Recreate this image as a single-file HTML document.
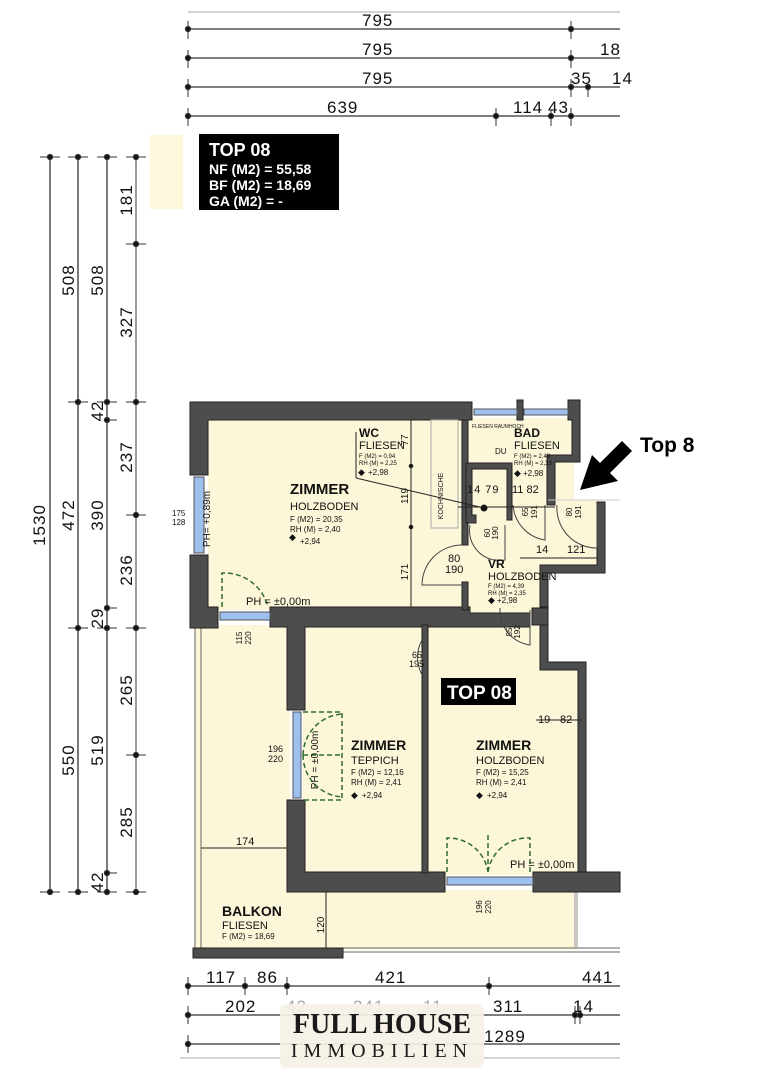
<!DOCTYPE html>
<html><head><meta charset="utf-8"><style>
html,body{margin:0;padding:0;background:#fff;}
svg{display:block;font-family:"Liberation Sans",sans-serif;}
</style></head><body>
<svg width="764" height="1080" viewBox="0 0 764 1080" xmlns="http://www.w3.org/2000/svg">
<rect width="764" height="1080" fill="#fff"/>
<!-- top dimension lines -->
<g stroke="#333" stroke-width="1.3" fill="#111">
<line x1="188" y1="12" x2="620" y2="12" stroke="#bbb"/>
<line x1="188" y1="29" x2="620" y2="29"/>
<line x1="188" y1="58" x2="620" y2="58"/>
<line x1="188" y1="87" x2="620" y2="87"/>
<line x1="188" y1="116" x2="620" y2="116"/>
<g stroke-width="1">
<line x1="188" y1="21" x2="188" y2="39"/><line x1="571" y1="21" x2="571" y2="39"/>
<line x1="188" y1="50" x2="188" y2="68"/><line x1="571" y1="50" x2="571" y2="68"/>
<line x1="188" y1="79" x2="188" y2="97"/><line x1="571" y1="79" x2="571" y2="97"/><line x1="588" y1="85" x2="588" y2="97"/>
<line x1="188" y1="108" x2="188" y2="126"/><line x1="496" y1="108" x2="496" y2="126"/><line x1="551" y1="110" x2="551" y2="126"/><line x1="571" y1="108" x2="571" y2="126"/>
</g>
<circle cx="188" cy="29" r="2.5"/><circle cx="571" cy="29" r="2.5"/>
<circle cx="188" cy="58" r="2.5"/><circle cx="571" cy="58" r="2.5"/>
<circle cx="188" cy="87" r="2.5"/><circle cx="571" cy="87" r="2.5"/><circle cx="588" cy="87" r="2.5"/>
<circle cx="188" cy="116" r="2.5"/><circle cx="496" cy="116" r="2.5"/><circle cx="551" cy="116" r="2.5"/><circle cx="571" cy="116" r="2.5"/>
</g>
<g font-size="17" fill="#111" letter-spacing="1">
<text x="362" y="26">795</text><text x="362" y="55">795</text><text x="362" y="84">795</text>
<text x="327" y="113">639</text><text x="513" y="113">114</text><text x="548" y="113">43</text>
<text x="600" y="55">18</text><text x="571" y="84">35</text><text x="612" y="84">14</text>
</g>
<!-- legend -->
<rect x="150" y="135" width="33" height="74" fill="#fdf8dc"/>
<rect x="199" y="134" width="140" height="76" fill="#000"/>
<g fill="#fff" font-weight="bold">
<text x="209" y="156" font-size="18">TOP 08</text>
<text x="209" y="174" font-size="14">NF (M2)  =  55,58</text>
<text x="209" y="190" font-size="14">BF (M2)  =  18,69</text>
<text x="209" y="206" font-size="14">GA (M2)  =  -</text>
</g>
<!-- left dims -->
<g stroke="#333" stroke-width="1.3" fill="#111">
<line x1="50" y1="157" x2="50" y2="892"/><line x1="78" y1="157" x2="78" y2="892"/>
<line x1="107" y1="157" x2="107" y2="892"/><line x1="136" y1="157" x2="136" y2="892" stroke="#666"/>
<g stroke-width="1">
<line x1="40" y1="157" x2="60" y2="157"/><line x1="40" y1="892" x2="60" y2="892"/>
<line x1="68" y1="157" x2="88" y2="157"/><line x1="68" y1="402" x2="88" y2="402"/><line x1="68" y1="628" x2="88" y2="628"/><line x1="68" y1="892" x2="88" y2="892"/>
<line x1="97" y1="157" x2="117" y2="157"/><line x1="97" y1="402" x2="117" y2="402"/><line x1="105" y1="420" x2="117" y2="420"/><line x1="105" y1="608" x2="117" y2="608"/><line x1="97" y1="628" x2="117" y2="628"/><line x1="105" y1="873" x2="117" y2="873"/><line x1="97" y1="892" x2="117" y2="892"/>
<line x1="126" y1="157" x2="146" y2="157"/><line x1="126" y1="244" x2="146" y2="244"/><line x1="126" y1="402" x2="146" y2="402"/><line x1="126" y1="515" x2="146" y2="515"/><line x1="126" y1="628" x2="146" y2="628"/><line x1="126" y1="755" x2="146" y2="755"/><line x1="126" y1="892" x2="146" y2="892"/>
</g>
<circle cx="50" cy="157" r="2.5"/><circle cx="50" cy="892" r="2.5"/>
<circle cx="78" cy="157" r="2.5"/><circle cx="78" cy="402" r="2.5"/><circle cx="78" cy="628" r="2.5"/><circle cx="78" cy="892" r="2.5"/>
<circle cx="107" cy="157" r="2.5"/><circle cx="107" cy="402" r="2.5"/><circle cx="107" cy="420" r="2.5"/><circle cx="107" cy="608" r="2.5"/><circle cx="107" cy="628" r="2.5"/><circle cx="107" cy="873" r="2.5"/><circle cx="107" cy="892" r="2.5"/>
<circle cx="136" cy="157" r="2.5"/><circle cx="136" cy="244" r="2.5"/><circle cx="136" cy="402" r="2.5"/><circle cx="136" cy="515" r="2.5"/><circle cx="136" cy="628" r="2.5"/><circle cx="136" cy="755" r="2.5"/><circle cx="136" cy="892" r="2.5"/>
</g>
<g font-size="17" fill="#111" text-anchor="middle" letter-spacing="1">
<text transform="translate(45,525) rotate(-90)">1530</text>
<text transform="translate(74,280) rotate(-90)">508</text>
<text transform="translate(74,515) rotate(-90)">472</text>
<text transform="translate(74,760) rotate(-90)">550</text>
<text transform="translate(103,280) rotate(-90)">508</text>
<text transform="translate(103,411) rotate(-90)">42</text>
<text transform="translate(103,515) rotate(-90)">390</text>
<text transform="translate(103,618) rotate(-90)">29</text>
<text transform="translate(103,750) rotate(-90)">519</text>
<text transform="translate(103,882) rotate(-90)">42</text>
<text transform="translate(132,200) rotate(-90)">181</text>
<text transform="translate(132,322) rotate(-90)">327</text>
<text transform="translate(132,457) rotate(-90)">237</text>
<text transform="translate(132,570) rotate(-90)">236</text>
<text transform="translate(132,690) rotate(-90)">265</text>
<text transform="translate(132,822) rotate(-90)">285</text>
</g>
<!-- floor fills -->
<g fill="#fcf7d8">
<rect x="208" y="418" width="260" height="192"/>
<rect x="466" y="418" width="108" height="82"/>
<rect x="466" y="500" width="136" height="70"/>
<rect x="466" y="560" width="80" height="60"/>
<rect x="195" y="625" width="95" height="325"/>
<rect x="195" y="890" width="383" height="60"/>
<rect x="303" y="625" width="125" height="250"/>
<rect x="426" y="625" width="118" height="250"/>
<rect x="540" y="665" width="42" height="210"/>
</g>
<!-- balcony lines -->
<g stroke="#666" stroke-width="1" fill="none">
<line x1="201" y1="628" x2="201" y2="948"/><line x1="195" y1="628" x2="195" y2="948"/>
<line x1="343" y1="948" x2="620" y2="948"/><line x1="343" y1="952" x2="620" y2="952"/>
<line x1="577" y1="892" x2="577" y2="948" stroke="#99a"/><line x1="575" y1="892" x2="575" y2="948" stroke="#99a"/>
<line x1="584" y1="665" x2="584" y2="870" stroke="#aaa"/>
</g>
<!-- walls -->
<g fill="#4d4d4d" stroke="#222" stroke-width="1">
<path d="M190,402 H472 V420 H208 V475 H190 Z"/>
<path d="M190,555 H208 V607 H218 V628 H190 Z"/>
<path d="M270,607 H470 V613 H530 V627 H305 V710 H287 V627 H270 Z"/>
<rect x="532" y="608" width="16" height="17"/>
<path d="M287,800 H305 V872 H445 V892 H287 Z"/>
<path d="M533,872 H620 V892 H533 Z"/>
<rect x="422" y="625" width="6" height="248"/>
<path d="M540,625 H548 V662 H586 V872 H578 V670 H540 Z"/>
<rect x="193" y="948" width="150" height="10"/>
<rect x="517" y="400" width="6" height="20"/>
<path d="M568,400 H580 V462 H555 V505 H547 V455 H572 V420 H568 Z"/>
<path d="M462,420 H468 V545 H462 Z"/>
<path d="M462,582 H468 V610 H462 Z"/>
<path d="M466,463 H512 V520 H507 V469 H472 V515 H476 V523 H466 Z"/>
<path d="M597,502 H605 V573 H548 V607 H540 V565 H597 Z"/>
<rect x="431" y="420" width="27" height="108" fill="none" stroke="#aaa"/>
</g>
<!-- windows -->
<g fill="#9ec0ee" stroke="#555" stroke-width="1">
<rect x="194" y="477" width="10" height="76"/>
<rect x="220" y="612" width="50" height="8"/>
<rect x="293" y="712" width="8" height="86"/>
<rect x="447" y="877" width="86" height="8"/>
<rect x="474" y="409" width="43" height="6"/>
<rect x="524" y="409" width="44" height="6"/>
</g>
<!-- doors -->
<g fill="none" stroke="#2f6b2f" stroke-width="1.5" stroke-dasharray="5,3">
<path d="M222,607 V573 A45,45 0 0 1 268,607"/>
<path d="M303,712 H342 V800 H303 M303,755 A42,42 0 0 1 342,714 M303,755 A42,42 0 0 0 342,797 M303,755 H342"/>
<path d="M447,872 V838 A40,40 0 0 1 488,872 M530,872 V838 A40,40 0 0 0 488,872 M488,872 V835"/>
</g>
<g fill="none" stroke="#444" stroke-width="1">
<path d="M462,545 A40,40 0 0 0 422,585 H462"/>
<path d="M422,640 A36,36 0 0 0 424,678"/>
<path d="M470,525 A30,30 0 0 0 505,560 V525"/>
<path d="M513,505 A38,38 0 0 0 545,540 V505"/>
<path d="M557,505 A40,40 0 0 0 597,548 V505"/>
<path d="M500,608 A35,35 0 0 0 530,645 V610"/>
</g>
<!-- inner dim lines -->
<g stroke="#222" stroke-width="1" fill="#111">
<line x1="411" y1="420" x2="411" y2="607"/>
<line x1="458" y1="507" x2="555" y2="507"/>
<line x1="520" y1="558" x2="597" y2="558"/>
<line x1="536" y1="720" x2="582" y2="720"/>
<line x1="201" y1="848" x2="287" y2="848"/>
<line x1="326" y1="892" x2="326" y2="948"/>
<line x1="356" y1="432" x2="356" y2="478"/>
<line x1="356" y1="478" x2="484" y2="508"/>
<circle cx="484" cy="508" r="3"/>
<circle cx="411" cy="466" r="1.8"/><circle cx="411" cy="527" r="1.8"/>
</g>
<!-- room texts -->
<g fill="#111">
<g font-weight="bold"><text x="290" y="494" font-size="15">ZIMMER</text>
<text x="351" y="750" font-size="14">ZIMMER</text>
<text x="476" y="750" font-size="14">ZIMMER</text>
<text x="222" y="916" font-size="14">BALKON</text>
<text x="359" y="437" font-size="12">WC</text>
<text x="514" y="437" font-size="12">BAD</text>
<text x="488" y="568" font-size="12">VR</text></g>
<g font-size="11">
<text x="290" y="510">HOLZBODEN</text>
<text x="351" y="764">TEPPICH</text>
<text x="476" y="764">HOLZBODEN</text>
<text x="222" y="929">FLIESEN</text>
<text x="359" y="449">FLIESEN</text>
<text x="514" y="449">FLIESEN</text>
<text x="488" y="580">HOLZBODEN</text>
</g>
<g font-size="8">
<text x="290" y="522">F (M2)  = 20,35</text><text x="290" y="532">RH (M) = 2,40</text><text x="300" y="544">+2,94</text>
<text x="351" y="775">F (M2) = 12,16</text><text x="351" y="785">RH (M) = 2,41</text><text x="362" y="798">+2,94</text>
<text x="476" y="775">F (M2) = 15,25</text><text x="476" y="785">RH (M) = 2,41</text><text x="487" y="798">+2,94</text>
<text x="222" y="939">F (M2) = 18,69</text>
<text x="359" y="458" font-size="6">F (M2) = 0,94</text><text x="359" y="465" font-size="6">RH (M) = 2,25</text><text x="368" y="475">+2,98</text>
<text x="514" y="458" font-size="6">F (M2) = 2,49</text><text x="514" y="465" font-size="6">RH (M) = 2,33</text><text x="523" y="476">+2,98</text>
<text x="488" y="588" font-size="6">F (M2) = 4,39</text><text x="488" y="595" font-size="6">RH (M) = 2,35</text><text x="497" y="603">+2,98</text>
<text x="495" y="454">DU</text>
<text x="472" y="428" font-size="5">FLIESEN RAUMHOCH</text>
</g>
<g font-size="9">
<text x="289" y="540">◆</text><text x="351" y="798">◆</text><text x="476" y="798">◆</text>
<text x="358" y="475">◆</text><text x="514" y="476">◆</text><text x="488" y="603">◆</text>
</g>
<g font-size="11">
<text x="246" y="605">PH = ±0,00m</text>
<text x="510" y="868">PH = ±0,00m</text>
<text x="467" y="493" letter-spacing="1">14 79</text>
<text x="512" y="493">11  82</text>
<text x="567" y="553">121</text><text x="536" y="553">14</text>
<text x="538" y="723">19</text><text x="560" y="723">82</text>
<text x="236" y="845">174</text>
<text x="448" y="562">80</text><text x="445" y="573">190</text>
</g>
<g font-size="9">
<text x="412" y="658">65</text><text x="409" y="667">195</text>
<text x="268" y="752">196</text><text x="268" y="762">220</text>
</g>
<g font-size="10" text-anchor="middle">
<text transform="translate(210,519) rotate(-90)">PH= +0,89m</text>
<text transform="translate(318,760) rotate(-90)">PH = ±0,00m</text>
<text transform="translate(324,925) rotate(-90)">120</text>
<text transform="translate(408,572) rotate(-90)">171</text>
<text transform="translate(408,496) rotate(-90)">119</text>
<text transform="translate(408,440) rotate(-90)">77</text>
<text transform="translate(443,496) rotate(-90)" font-size="7">KOCHNISCHE</text>
<text transform="translate(490,533) rotate(-90)" font-size="8">60</text>
<text transform="translate(498,533) rotate(-90)" font-size="8">190</text>
<text transform="translate(528,512) rotate(-90)" font-size="8">65</text>
<text transform="translate(537,512) rotate(-90)" font-size="8">191</text>
<text transform="translate(572,512) rotate(-90)" font-size="8">80</text>
<text transform="translate(581,512) rotate(-90)" font-size="8">191</text>
<text transform="translate(512,632) rotate(-90)" font-size="8">85</text>
<text transform="translate(520,632) rotate(-90)" font-size="8">192</text>
<text transform="translate(482,907) rotate(-90)" font-size="8">196</text>
<text transform="translate(491,907) rotate(-90)" font-size="8">220</text>
<text transform="translate(242,638) rotate(-90)" font-size="8">115</text>
<text transform="translate(251,638) rotate(-90)" font-size="8">220</text>
</g>
<text x="172" y="516" font-size="8">175</text><text x="172" y="525" font-size="8">128</text>
</g>
<!-- TOP 08 label -->
<rect x="441" y="678" width="75" height="27" fill="#000"/>
<text x="447" y="699" font-size="19" font-weight="bold" fill="#fff">TOP 08</text>
<!-- arrow -->
<polygon points="580,490 592,455 600,463 622,441 632,451 610,473 618,481" fill="#000"/>
<text x="640" y="452" font-size="21" font-weight="bold" fill="#000">Top 8</text>
<line x1="548" y1="500" x2="620" y2="500" stroke="#ccc" stroke-width="1"/>
<!-- bottom dims -->
<g stroke="#333" stroke-width="1.3" fill="#111">
<line x1="188" y1="986" x2="620" y2="986"/>
<line x1="188" y1="1015" x2="620" y2="1015"/>
<line x1="188" y1="1044" x2="620" y2="1044"/>
<line x1="180" y1="1058" x2="620" y2="1058" stroke="#aaa" stroke-width="1"/>
<g stroke-width="1"><line x1="188" y1="977" x2="188" y2="995"/><line x1="245" y1="977" x2="245" y2="995"/><line x1="287" y1="977" x2="287" y2="995"/><line x1="489" y1="977" x2="489" y2="995"/>
<line x1="188" y1="1006" x2="188" y2="1024"/><line x1="575" y1="1006" x2="575" y2="1024"/><line x1="580" y1="1006" x2="580" y2="1024"/>
<line x1="188" y1="1035" x2="188" y2="1053"/></g>
<circle cx="188" cy="986" r="2.5"/><circle cx="245" cy="986" r="2.5"/><circle cx="287" cy="986" r="2.5"/><circle cx="489" cy="986" r="2.5"/>
<circle cx="188" cy="1015" r="2.5"/><circle cx="575" cy="1015" r="2.5"/><circle cx="580" cy="1015" r="2.5"/>
<circle cx="188" cy="1044" r="2.5"/>
</g>
<g font-size="17" fill="#111" letter-spacing="1">
<text x="206" y="983">117</text><text x="257" y="983">86</text><text x="375" y="983">421</text><text x="582" y="983">441</text>
<text x="225" y="1012">202</text><text x="493" y="1012">311</text><text x="573" y="1012">14</text>
<text x="484" y="1042">1289</text>
<text x="286" y="1012" fill="#aaa">42</text><text x="353" y="1012" fill="#aaa">241</text><text x="423" y="1012" fill="#aaa">11</text>
</g>
<!-- logo -->
<rect x="280" y="1004" width="204" height="64" rx="6" fill="#f6f1e6" opacity="0.92"/>
<text x="382" y="1033" style="font-family:'Liberation Serif',serif" font-size="28" font-weight="bold" fill="#1a1a1a" text-anchor="middle">FULL HOUSE</text>
<text x="382" y="1057" style="font-family:'Liberation Serif',serif" font-size="20" fill="#1a1a1a" text-anchor="middle" letter-spacing="6">IMMOBILIEN</text>
</svg>
</body></html>
